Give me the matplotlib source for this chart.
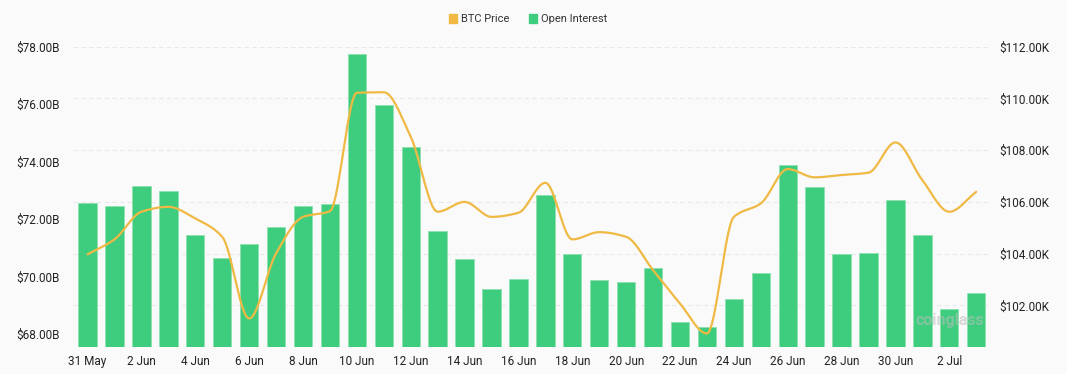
import numpy as np
import matplotlib
matplotlib.use("Agg")
import matplotlib.pyplot as plt
from matplotlib.patches import Rectangle
from matplotlib.transforms import blended_transform_factory

# ---- data ----
dates = ["31 May"] + [f"{d} Jun" for d in range(1, 31)] + [f"{d} Jul" for d in range(1, 4)]
open_interest_b = [72.55, 72.45, 73.16, 72.96, 71.44, 70.63, 71.13, 71.72, 72.46, 72.51,
                   77.74, 75.97, 74.49, 71.58, 70.60, 69.56, 69.91, 72.84, 70.78, 69.88,
                   69.81, 70.28, 68.40, 68.22, 69.22, 70.13, 73.87, 73.11, 70.77, 70.82,
                   72.65, 71.43, 68.85, 69.43]
btc_price_k = [103.97, 104.55, 105.62, 105.81, 105.36, 104.65, 101.49, 104.01, 105.42, 105.64,
               110.22, 110.24, 108.52, 105.62, 106.00, 105.42, 105.58, 106.74, 104.55, 104.83,
               104.65, 103.36, 102.07, 100.91, 105.42, 105.94, 107.27, 106.95, 107.04, 107.13,
               108.30, 106.84, 105.62, 106.39]
left_ticks = [68, 70, 72, 74, 76, 78]
right_ticks = [102, 104, 106, 108, 110, 112]

BG = "#fafafa"
GREEN = "#3ecd7e"
ORANGE = "#efb944"
TXT = "#222222"


def monotone_curve(x, y, n=20):
    """Monotone cubic (Fritsch-Carlson) smoothing for drawing the line."""
    x = np.asarray(x, float)
    y = np.asarray(y, float)
    h = np.diff(x)
    d = np.diff(y) / h
    m = np.zeros_like(y)
    m[0], m[-1] = d[0], d[-1]
    for i in range(1, len(y) - 1):
        if d[i - 1] * d[i] <= 0:
            m[i] = 0.0
        else:
            w1 = 2 * h[i] + h[i - 1]
            w2 = h[i] + 2 * h[i - 1]
            m[i] = (w1 + w2) / (w1 / d[i - 1] + w2 / d[i])
    xs, ys = [], []
    for i in range(len(x) - 1):
        t = np.linspace(0, 1, n, endpoint=False)
        h00 = 2 * t**3 - 3 * t**2 + 1
        h10 = t**3 - 2 * t**2 + t
        h01 = -2 * t**3 + 3 * t**2
        h11 = t**3 - t**2
        xs.append(x[i] + t * h[i])
        ys.append(h00 * y[i] + h10 * h[i] * m[i] + h01 * y[i + 1] + h11 * h[i] * m[i + 1])
    xs.append([x[-1]])
    ys.append([y[-1]])
    return np.concatenate(xs), np.concatenate(ys)


plt.rcParams['font.family'] = ['Roboto', 'DejaVu Sans']

fig = plt.figure(figsize=(10.67, 3.74), dpi=100, facecolor=BG)
ax = fig.add_axes([0.0687, 0.073, 0.8591, 0.802])
ax.set_facecolor(BG)
ax2 = ax.twinx()
ax2.patch.set_visible(False)

x = np.arange(len(dates))
ax.set_ylim(67.55, 78.0)
ax2.set_ylim(100.4, 112.0)

# grid lines (belong to right axis ticks), drawn behind the bars
grid_tr = blended_transform_factory(ax.transAxes, ax2.transData)
ax.hlines(right_ticks, 0, 1, transform=grid_tr, colors="#e8e8e8",
          linestyles=(0, (4, 3)), linewidth=0.8, zorder=0)
ax.axhline(67.55, color="#e8e8e8", linewidth=0.8, zorder=0)

ax.bar(x, open_interest_b, width=0.68, color=GREEN, edgecolor="#8ee0b0", linewidth=0.6,
       zorder=2, label="Open Interest")
ax.set_xlim(-0.53, len(dates) - 0.49)
ax.set_yticks(left_ticks)
ax.set_yticklabels([f"${v:.2f}B" for v in left_ticks])

xs, ys = monotone_curve(x, btc_price_k)
ax2.plot(xs, ys, color=ORANGE, linewidth=1.6, zorder=3, solid_capstyle="round", label="BTC Price")
ax2.set_yticks(right_ticks)
ax2.set_yticklabels([f"${v:.2f}K" for v in right_ticks])

ax.set_xticks(x[::2])
ax.set_xticklabels(dates[::2])

for a in (ax, ax2):
    for s in a.spines.values():
        s.set_visible(False)
    a.tick_params(length=0, labelsize=8.5, colors=TXT)
ax.tick_params(axis="y", pad=10)
ax2.tick_params(axis="y", pad=7)
ax.tick_params(axis="x", pad=6)

# legend
fig.patches.append(Rectangle((449 / 1067, 1 - 23 / 374), 8 / 1067, 9 / 374,
                             transform=fig.transFigure, color=ORANGE))
fig.text(461 / 1067, 1 - 18.5 / 374, "BTC Price", fontsize=8, color="#333333", va="center")
fig.patches.append(Rectangle((529 / 1067, 1 - 23 / 374), 8 / 1067, 9 / 374,
                             transform=fig.transFigure, color=GREEN))
fig.text(541 / 1067, 1 - 18.5 / 374, "Open Interest", fontsize=8, color="#333333", va="center")

# watermark
fig.text(916 / 1067, 1 - 320 / 374, "coinglass", fontsize=11.5, color="#bdbdbd",
         alpha=0.55, va="center", fontweight="bold", zorder=10)

fig.savefig("out.png", dpi=100, facecolor=BG)
